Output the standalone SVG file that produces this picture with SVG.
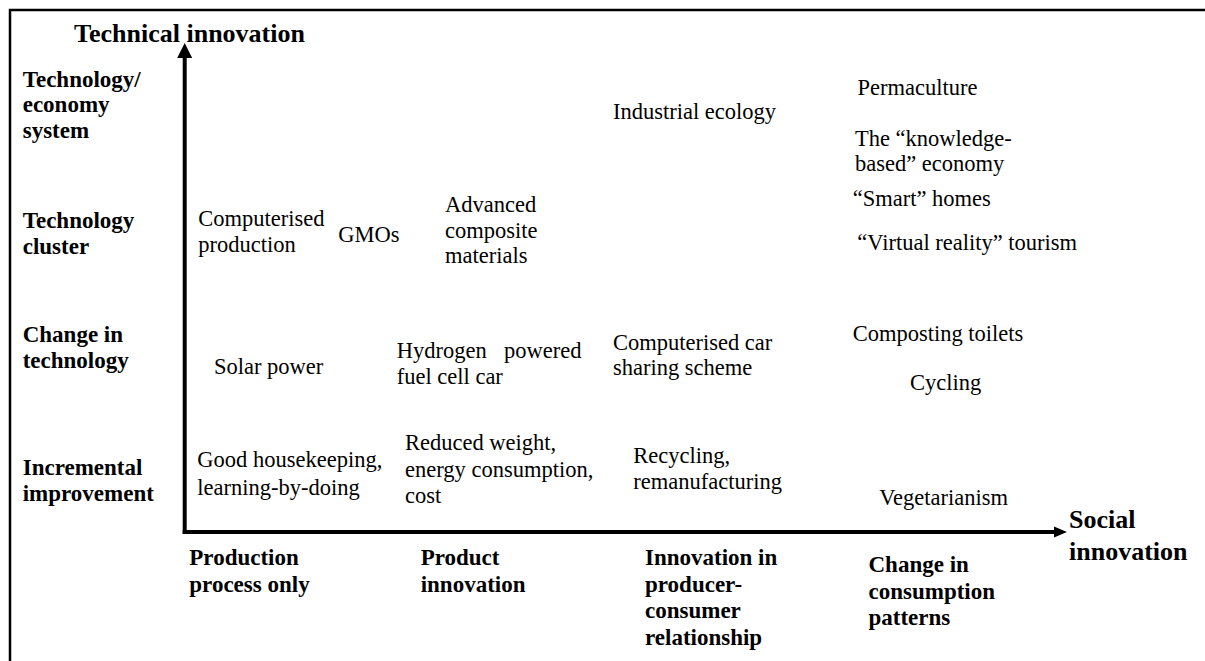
<svg xmlns="http://www.w3.org/2000/svg" width="1205" height="661" viewBox="0 0 1205 661">
  <style>
    .item { font-size: 22.5px; }
    .level { font-size: 23px; font-weight: bold; }
    .axis-title { font-size: 26px; font-weight: bold; }
    .axis { stroke: #000; stroke-width: 4; fill: none; }
    .head { fill: #000; stroke: none; }
    .frame { stroke: #000; stroke-width: 2.5; fill: none; }
  </style>
  <rect width="1205" height="661" fill="#fff"/>

  <!-- frame: top and left rules -->
  <path class="frame" d="M10,661 V10 H1205"/>

  <!-- axes -->
  <g id="connectors">
    <line class="axis" x1="184.7" y1="534" x2="184.7" y2="56"/>
    <path class="head" d="M184.7,43 L192.2,58 L177.2,58 Z"/>
    <line class="axis" x1="182.7" y1="532" x2="1056" y2="532"/>
    <path class="head" d="M1067,532 L1054,526.5 L1054,537.5 Z"/>
  </g>

  <g font-family="Liberation Serif, DejaVu Serif, serif" fill="#000">
  <!-- axis titles -->
  <g id="y-axis-title"><text class="axis-title" x="74" y="42">Technical innovation</text></g>
  <g id="x-axis-title">
    <text class="axis-title" x="1069" y="528">Social</text>
    <text class="axis-title" x="1069" y="559.5">innovation</text>
  </g>

  <!-- vertical levels -->
  <g id="level-system">
    <text class="level" x="22.7" y="87">Technology/</text>
    <text class="level" x="22.7" y="112.3">economy</text>
    <text class="level" x="22.7" y="137.5">system</text>
  </g>
  <g id="level-cluster">
    <text class="level" x="22.7" y="227.5">Technology</text>
    <text class="level" x="22.7" y="253.5">cluster</text>
  </g>
  <g id="level-change">
    <text class="level" x="22.7" y="341.7">Change in</text>
    <text class="level" x="22.7" y="367.7">technology</text>
  </g>
  <g id="level-incremental">
    <text class="level" x="22.7" y="475">Incremental</text>
    <text class="level" x="22.7" y="500.7">improvement</text>
  </g>

  <!-- horizontal categories -->
  <g id="cat-process">
    <text class="level" x="189.3" y="565">Production</text>
    <text class="level" x="189.3" y="591.7">process only</text>
  </g>
  <g id="cat-product">
    <text class="level" x="420.7" y="565">Product</text>
    <text class="level" x="420.7" y="591.7">innovation</text>
  </g>
  <g id="cat-relationship">
    <text class="level" x="645" y="565">Innovation in</text>
    <text class="level" x="645" y="591.7">producer-</text>
    <text class="level" x="645" y="618.3">consumer</text>
    <text class="level" x="645" y="645">relationship</text>
  </g>
  <g id="cat-consumption">
    <text class="level" x="868.5" y="572">Change in</text>
    <text class="level" x="868.5" y="598.5">consumption</text>
    <text class="level" x="868.5" y="625">patterns</text>
  </g>

  <!-- examples -->
  <g id="industrial-ecology"><text class="item" x="613" y="119">Industrial ecology</text></g>
  <g id="permaculture"><text class="item" x="857.5" y="95">Permaculture</text></g>
  <g id="knowledge-economy">
    <text class="item" x="855" y="146">The “knowledge-</text>
    <text class="item" x="855" y="170.7">based” economy</text>
  </g>
  <g id="smart-homes"><text class="item" x="852.7" y="205.7">“Smart” homes</text></g>
  <g id="vr-tourism"><text class="item" x="857.3" y="250">“Virtual reality” tourism</text></g>

  <g id="computerised-production">
    <text class="item" x="198.3" y="226">Computerised</text>
    <text class="item" x="198.3" y="251.7">production</text>
  </g>
  <g id="gmos"><text class="item" x="338.3" y="241.7">GMOs</text></g>
  <g id="composite-materials">
    <text class="item" x="445" y="211.7">Advanced</text>
    <text class="item" x="445" y="237.5">composite</text>
    <text class="item" x="445" y="263">materials</text>
  </g>

  <g id="solar-power"><text class="item" x="214" y="374">Solar power</text></g>
  <g id="fuel-cell-car">
    <text class="item" x="396.7" y="358">Hydrogen</text>
    <text class="item" x="504" y="358">powered</text>
    <text class="item" x="396.7" y="383.7">fuel cell car</text>
  </g>
  <g id="car-sharing">
    <text class="item" x="613" y="349.5">Computerised car</text>
    <text class="item" x="613" y="375">sharing scheme</text>
  </g>
  <g id="composting-toilets"><text class="item" x="852.7" y="340.7">Composting toilets</text></g>
  <g id="cycling"><text class="item" x="910" y="390">Cycling</text></g>

  <g id="housekeeping">
    <text class="item" x="197.3" y="466.7">Good housekeeping,</text>
    <text class="item" x="197.3" y="495">learning-by-doing</text>
  </g>
  <g id="reduced-weight">
    <text class="item" x="405" y="450">Reduced weight,</text>
    <text class="item" x="405" y="476.7">energy consumption,</text>
    <text class="item" x="405" y="502.7">cost</text>
  </g>
  <g id="recycling">
    <text class="item" x="633.3" y="462.7">Recycling,</text>
    <text class="item" x="633.3" y="489.3">remanufacturing</text>
  </g>
  <g id="vegetarianism"><text class="item" x="879.3" y="505">Vegetarianism</text></g>
  </g>
</svg>
